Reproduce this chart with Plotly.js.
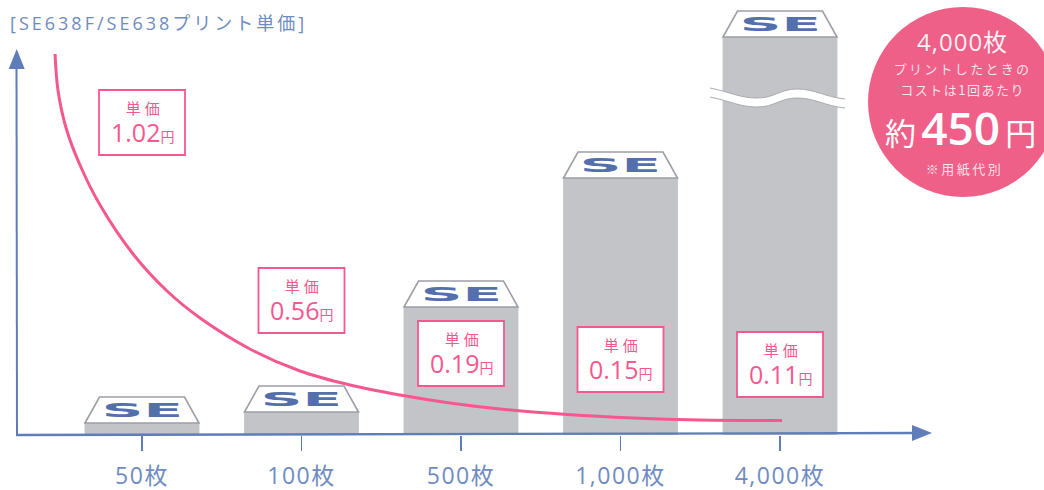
<!DOCTYPE html>
<html><head><meta charset="utf-8">
<script src="https://cdn.plot.ly/plotly-3.0.1.min.js"></script>
<style>
html,body{margin:0;padding:0;background:#fff}
#chart{width:1044px;height:490px}
.gtitle{letter-spacing:3px}
.xtick text{letter-spacing:1.5px}
</style></head><body><div id="chart"></div>
<script>
// Data
const sheetLabels = ['50枚','100枚','500枚','1,000枚','4,000枚'];
const barHeights = [12, 23, 128, 257, 398];
const unitPrices = ['1.02','0.56','0.19','0.15','0.11'];
const unitPriceHeights = [312.5, 134.5, 81.5, 75.5, 70.5];
const curveX = [-0.545,-0.527,-0.476,-0.389,-0.263,-0.056,0.157,0.364,0.677,0.991,1.304,1.618,1.931,2.245,2.665,3.078,3.498,4.013];
const curveY = [381,345,307,270,230,181,144,117,86,64,50,40,32,26,20.5,17,15,14.5];

const titleText = '[SE638F/SE638プリント単価]';
const BLUE='#5F7DB8', TEXTBLUE='#6F8CC2', PINK='#F5588F', GRAY='#C2C4C8', CAPLINE='#9C9FA6', SEBLUE='#5470AC', BADGE='#EF6089';
const SOFT='rgba(255,255,255,0.82)';
const LATIN="'Open Sans','Noto Sans CJK JP',sans-serif";
const CJK="'Noto Sans CJK JP',sans-serif";

const L=17,R=932,B=435,W=1044,H=490;
const indices=sheetLabels.map((_,i)=>i);
const px=x=>(x-L)/(R-L), py=y=>(B-y)/B;

const shapes=[], annotations=[];
function text(t,x,y,size,color,family,extra){
  annotations.push(Object.assign({text:t,xref:'paper',yref:'paper',x:px(x),y:py(y),xanchor:'center',yanchor:'middle',showarrow:false,font:{size:size,color:color,family:family||CJK}},extra||{}));
}
// axes
shapes.push({type:'line',xref:'paper',yref:'paper',x0:px(17),x1:px(16.5),y0:py(436),y1:py(66),line:{color:BLUE,width:2}});
shapes.push({type:'line',xref:'paper',yref:'paper',x0:px(16),x1:px(915),y0:py(435),y1:py(433),line:{color:BLUE,width:2.4}});
shapes.push({type:'path',xref:'paper',yref:'paper',xsizemode:'pixel',ysizemode:'pixel',xanchor:px(16.7),yanchor:py(49),path:'M0,0 L8,-20 L-8,-20 Z',fillcolor:BLUE,line:{width:0}});
shapes.push({type:'path',xref:'paper',yref:'paper',xsizemode:'pixel',ysizemode:'pixel',xanchor:px(932),yanchor:py(433),path:'M0,0 L-20,8 L-20,-8 Z',fillcolor:BLUE,line:{width:0}});

// bars' caps and SE
indices.forEach(i=>{
  shapes.push({type:'path',xref:'x',yref:'y',xsizemode:'pixel',ysizemode:'pixel',xanchor:i,yanchor:barHeights[i],
    path:'M-57,0 L-42.5,26 L42.5,26 L57,0 Z',fillcolor:'#fff',line:{color:CAPLINE,width:1.6}});
  annotations.push({text:'SE',xref:'x',yref:'y',x:i,y:barHeights[i]+13.5,xanchor:'center',yanchor:'middle',showarrow:false,
    font:{size:19,color:SEBLUE,family:"'DejaVu Sans',sans-serif",weight:700}});
});
// wavy break in the tallest bar
const wave=d=>`M-70,${347-d} C-50,${343-d} -40,${337-d} -23,${337-d} C-5,${337-d} 0,${346-d} 17,${346-d} C35,${346-d} 45,${338-d} 65,${336-d}`;
const waveBack=d=>`L65,${336-d} C45,${338-d} 35,${346-d} 17,${346-d} C0,${346-d} -5,${337-d} -23,${337-d} C-40,${337-d} -50,${343-d} -70,${347-d} Z`;
const anchor={xref:'x',yref:'y',xsizemode:'pixel',ysizemode:'pixel',xanchor:4,yanchor:0,type:'path'};
shapes.push(Object.assign({},anchor,{path:wave(0)+' '+waveBack(9),fillcolor:'#fff',line:{width:0}}));
shapes.push(Object.assign({},anchor,{path:wave(0),line:{color:'#A9ACB3',width:1}}));
shapes.push(Object.assign({},anchor,{path:wave(9),line:{color:'#A9ACB3',width:1}}));

// unit price boxes
indices.forEach(i=>{
  const h=unitPriceHeights[i];
  shapes.push({type:'rect',xref:'x',yref:'y',xsizemode:'pixel',ysizemode:'pixel',xanchor:i,yanchor:h,x0:-43,x1:43,y0:-32.5,y1:32.5,fillcolor:'#fff',line:{color:PINK,width:1.8}});
  annotations.push({text:'<span style="font-size:15px">単 価</span><br><span style="font-size:25px">'+unitPrices[i]+'</span><span style="font-size:14px">円</span>',
    xref:'x',yref:'y',x:i,y:h,yshift:-1,xanchor:'center',yanchor:'middle',showarrow:false,font:{size:21.5,color:PINK,family:LATIN}});
});

// badge
shapes.push({type:'circle',xref:'paper',yref:'paper',xsizemode:'pixel',ysizemode:'pixel',xanchor:px(963),yanchor:py(102),x0:-95,x1:95,y0:-95,y1:95,fillcolor:BADGE,line:{width:0}});
text('4,000枚',962,41,24,'rgba(255,255,255,0.92)',LATIN);
text('プリントしたときの',962,68,13,SOFT);
text('コストは1回あたり',962,89,13,SOFT);
text('約\u2009<span style="font-size:46px;font-weight:600">450</span>\u2009円',961,127,31,'#fff',LATIN);
text('※用紙代別',964,168,13,SOFT);

const data=[
 {type:'bar',x:indices,y:barHeights,width:0.72,marker:{color:GRAY,line:{width:0}},hoverinfo:'skip'},
 {type:'scatter',mode:'lines',x:curveX,y:curveY,line:{color:PINK,width:3,shape:'spline',smoothing:1},hoverinfo:'skip'}
];
const layout={
 width:W,height:H,showlegend:false,paper_bgcolor:'#fff',plot_bgcolor:'#fff',hovermode:false,
 margin:{l:L,r:W-R,t:0,b:H-B,pad:0},
 title:{text:titleText,x:10/W,xanchor:'left',y:1-24/H,yanchor:'middle',font:{size:18,color:TEXTBLUE,family:LATIN}},
 xaxis:{range:[(L-142)/159.5,(R-142)/159.5],tickmode:'array',tickvals:indices,ticktext:sheetLabels,showgrid:false,zeroline:false,
   showline:false,ticks:'outside',ticklen:15,tickwidth:1.5,tickcolor:BLUE,ticklabelstandoff:5,
   tickfont:{size:23,color:TEXTBLUE,family:LATIN}},
 yaxis:{range:[0,B],visible:false,showgrid:false,zeroline:false},
 shapes,annotations
};
Plotly.newPlot('chart',data,layout,{displayModeBar:false,staticPlot:true}).then(()=>{
  document.querySelectorAll('.annotation-text').forEach(t=>{
    const s=t.textContent;
    if(s==='SE'){
      const b=t.getBBox(),cx=b.x+b.width/2,k=81/b.width;
      t.setAttribute('transform',`translate(${cx} 0) scale(${k} 1) translate(${-cx} 0)`);
    }
    if(s==='プリントしたときの'){t.style.letterSpacing='2.3px';}
    if(s==='コストは1回あたり'){t.style.letterSpacing='1.5px';}
    if(s.startsWith('※')){t.style.letterSpacing='2.5px';}
    if(s==='4,000枚'){t.style.letterSpacing='1px';}
  });
});
</script></body></html>
